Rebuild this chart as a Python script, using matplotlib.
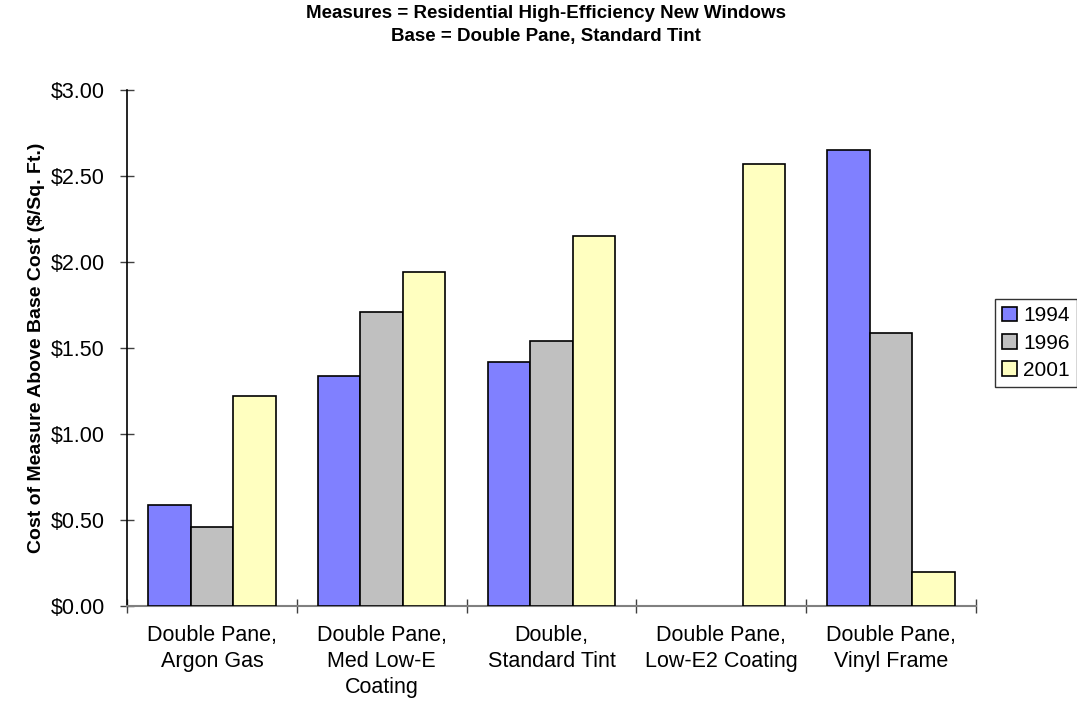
import numpy as np
import matplotlib.pyplot as plt

plt.rcParams['font.family'] = ['Liberation Sans', 'DejaVu Sans']

categories = ['Double Pane,\nArgon Gas', 'Double Pane,\nMed Low-E\nCoating',
              'Double,\nStandard Tint', 'Double Pane,\nLow-E2 Coating',
              'Double Pane,\nVinyl Frame']
years = ['1994', '1996', '2001']
cost_1994 = [0.59, 1.34, 1.42, 0.0, 2.65]
cost_1996 = [0.46, 1.71, 1.54, 0.0, 1.59]
cost_2001 = [1.22, 1.94, 2.15, 2.57, 0.20]
yticks = [0.0, 0.5, 1.0, 1.5, 2.0, 2.5, 3.0]

colors = ['#8080FF', '#C0C0C0', '#FFFFC0']
series = [cost_1994, cost_1996, cost_2001]

fig = plt.figure(figsize=(10.77, 7.09), dpi=100)
ax = fig.add_axes([127 / 1077, 1 - 606 / 709, 849 / 1077, 516 / 709])

x = np.arange(len(categories))
w = 0.25
handles = []
for i, (vals, c, yr) in enumerate(zip(series, colors, years)):
    vals = np.array(vals)
    keep = vals > 0
    b = ax.bar(x[keep] + (i - 1) * w, vals[keep], width=w, color=c,
               edgecolor='black', linewidth=1.2, label=yr, zorder=3)
    handles.append(b)

ax.set_xlim(-0.5, len(categories) - 0.5)
ax.set_ylim(0, 3.0)
ax.set_yticks(yticks)
ax.set_yticklabels(['$%.2f' % v for v in yticks], fontsize=15.5)
ax.tick_params(axis='y', direction='inout', length=10, width=1, color='#404040', pad=11)

ax.set_xticks(x)
ax.set_xticklabels(categories, fontsize=15.5, linespacing=1.3)
ax.tick_params(axis='x', which='major', length=0, pad=14)
ax.set_xticks(np.arange(-0.5, len(categories)), minor=True)
ax.tick_params(axis='x', which='minor', direction='inout', length=10, width=1, color='#404040')

for s in ['top', 'right']:
    ax.spines[s].set_visible(False)
ax.spines['left'].set_color('black')
ax.spines['left'].set_linewidth(1.2)
ax.spines['bottom'].set_color('#808080')
ax.spines['bottom'].set_linewidth(1.5)

ax.set_ylabel('Cost of Measure Above Base Cost ($/Sq. Ft.)', fontsize=14,
              fontweight='bold', labelpad=4)

fig.text(546 / 1077, 1 - 14 / 709, 'Measures = Residential High-Efficiency New Windows',
         ha='center', va='center', fontsize=13.5, fontweight='bold')
fig.text(546 / 1077, 1 - 37 / 709, 'Base = Double Pane, Standard Tint',
         ha='center', va='center', fontsize=13.5, fontweight='bold')

leg = fig.legend(handles=handles, labels=years, loc='upper left',
                 bbox_to_anchor=(995 / 1077, 1 - 299 / 709), fontsize=15,
                 frameon=True, fancybox=False, edgecolor='black',
                 handlelength=0.7, handleheight=0.7, handletextpad=0.3,
                 labelspacing=0.4, borderpad=0.35, borderaxespad=0)
leg.get_frame().set_linewidth(1.0)

fig.savefig('out.png', dpi=100)
